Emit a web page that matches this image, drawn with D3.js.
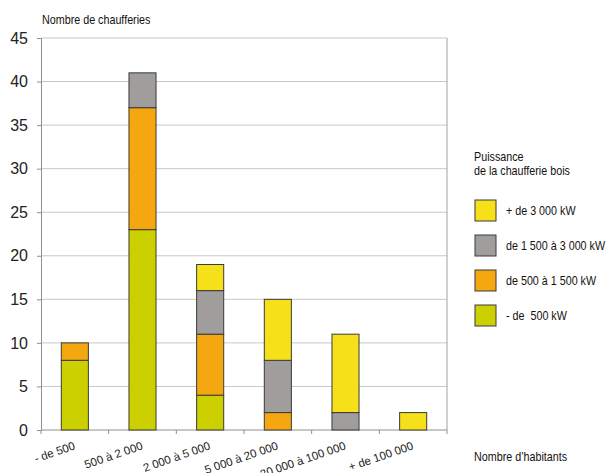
<!DOCTYPE html>
<html>
<head>
<meta charset="utf-8">
<script src="https://cdn.jsdelivr.net/npm/d3@7"></script>
<style>
  body { margin: 0; background: #fff; }
  text { font-family: "Liberation Sans", Arial, sans-serif; }
</style>
</head>
<body>
<div id="chart"></div>
<script>
// data
const categories = ['- de 500', '500 à 2 000', '2 000 à 5 000', '5 000 à 20 000', '20 000 à 100 000', '+ de 100 000']
const seriesKeys = ['moins500', 'de500a1500', 'de1500a3000', 'plus3000']
const seriesLabels = ['- de  500 kW', 'de 500 à 1 500 kW', 'de 1 500 à 3 000 kW', '+ de 3 000 kW']
const moins500 = [8, 23, 4, 0, 0, 0]
const de500a1500 = [2, 14, 7, 2, 0, 0]
const de1500a3000 = [0, 4, 5, 6, 2, 0]
const plus3000 = [0, 0, 3, 7, 9, 2]
const yTicks = [0, 5, 10, 15, 20, 25, 30, 35, 40, 45]

const colors = ['#cdd000', '#f5a70f', '#a19d9c', '#f6e019']

const W = 606, H = 473
const margin = { top: 38, right: 159, bottom: 43, left: 41 }
const width = W - margin.left - margin.right
const height = H - margin.top - margin.bottom

// narrow text (helvetica narrow look)
const narrow = 0.86

const table = categories.map((c, i) => ({
  cat: c,
  moins500: moins500[i],
  de500a1500: de500a1500[i],
  de1500a3000: de1500a3000[i],
  plus3000: plus3000[i],
}))

const stacked = d3.stack().keys(seriesKeys)(table)

const svg = d3.select('#chart').append('svg').attr('width', W).attr('height', H)
const g = svg.append('g').attr('transform', `translate(${margin.left},${margin.top})`)

const x = d3.scaleBand().domain(categories).range([0, width]).paddingInner(0.6).paddingOuter(0.3)
const y = d3.scaleLinear().domain([0, 45]).range([height, 0])

// gridlines
g.selectAll('line.grid')
  .data(yTicks.filter(d => d > 0))
  .join('line')
  .attr('class', 'grid')
  .attr('x1', 0).attr('x2', width)
  .attr('y1', d => y(d)).attr('y2', d => y(d))
  .attr('stroke', '#c8c8c8').attr('stroke-width', 1)

// right border
g.append('line').attr('x1', width).attr('x2', width).attr('y1', 0).attr('y2', height)
  .attr('stroke', '#a0a0a0')

// y axis
const yAxis = g.append('g').call(d3.axisLeft(y).tickValues(yTicks).tickSize(4).tickPadding(9))
yAxis.select('.domain').attr('stroke', '#909090')
yAxis.selectAll('.tick line').attr('stroke', '#909090')
yAxis.selectAll('.tick text').attr('font-size', 16).attr('fill', '#222')

// x axis
const xAxis = g.append('g').attr('transform', `translate(0,${height})`)
xAxis.append('line').attr('x1', 0).attr('x2', width).attr('stroke', '#909090')
xAxis.selectAll('line.tk')
  .data(d3.range(categories.length + 1))
  .join('line')
  .attr('class', 'tk')
  .attr('x1', i => i * width / categories.length)
  .attr('x2', i => i * width / categories.length)
  .attr('y1', 0).attr('y2', 4)
  .attr('stroke', '#909090')
xAxis.selectAll('text')
  .data(categories)
  .join('text')
  .attr('text-anchor', 'end')
  .attr('font-size', 11.5)
  .attr('fill', '#222')
  .attr('transform', d => `translate(${x(d) + x.bandwidth() / 2 + 1},${19}) rotate(-19)`)
  .text(d => d)

// bars
g.selectAll('g.layer')
  .data(stacked)
  .join('g')
  .attr('class', 'layer')
  .attr('fill', (d, i) => colors[i])
  .selectAll('rect')
  .data(d => d.filter(p => p[1] - p[0] > 0))
  .join('rect')
  .attr('x', d => x(d.data.cat))
  .attr('width', x.bandwidth())
  .attr('y', d => y(d[1]))
  .attr('height', d => y(d[0]) - y(d[1]))
  .attr('stroke', '#3a3a3a')
  .attr('stroke-width', 1)

function narrowText(parent, tx, ty, str) {
  return parent.append('text')
    .attr('transform', `translate(${tx},${ty}) scale(${narrow},1)`)
    .attr('font-size', 12.5)
    .attr('fill', '#111')
    .style('white-space', 'pre')
    .text(str)
}

// titles
narrowText(svg, 42, 24, 'Nombre de chaufferies')
narrowText(svg, 474, 461, 'Nombre d\u2019habitants')

// legend
narrowText(svg, 474, 161, 'Puissance')
narrowText(svg, 474, 175, 'de la chaufferie bois')
const order = [3, 2, 1, 0]
const items = svg.selectAll('g.item')
  .data(order)
  .join('g')
  .attr('class', 'item')
  .attr('transform', (d, i) => `translate(475,${200 + i * 35})`)
items.append('rect').attr('width', 21).attr('height', 21)
  .attr('fill', d => colors[d]).attr('stroke', '#3a3a3a')
items.each(function (d) {
  narrowText(d3.select(this), 31, 15, seriesLabels[d])
})
</script>
</body>
</html>
